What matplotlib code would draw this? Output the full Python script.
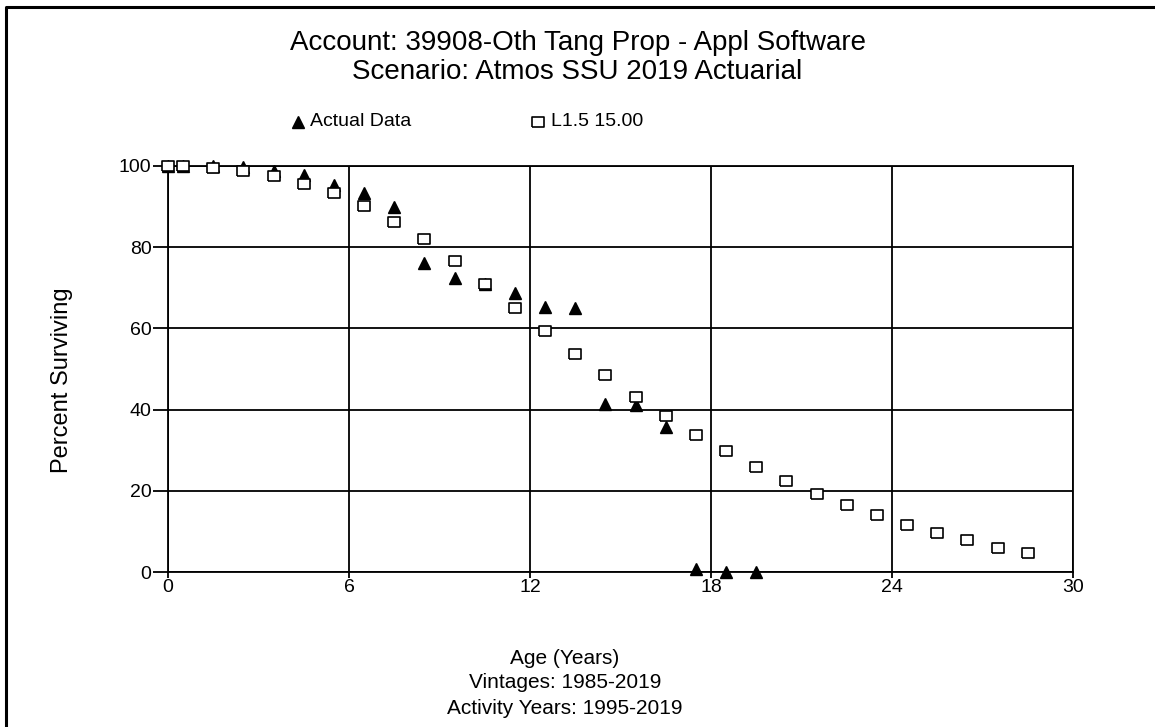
import matplotlib
matplotlib.use('Agg')
import matplotlib.pyplot as plt
from matplotlib.lines import Line2D

plt.rcParams['font.family'] = ['Liberation Sans', 'DejaVu Sans']

# curve (L1.5 15.00)
curve_age = [0, 0.5, 1.5, 2.5, 3.5, 4.5, 5.5, 6.5, 7.5, 8.5, 9.5, 10.5, 11.5, 12.5,
             13.5, 14.5, 15.5, 16.5, 17.5, 18.5, 19.5, 20.5, 21.5, 22.5, 23.5,
             24.5, 25.5, 26.5, 27.5, 28.5]
curve_pct = [100, 100, 99.5, 98.8, 97.5, 95.6, 93.4, 90.2, 86.3, 82.0, 76.6, 70.9,
             65.1, 59.4, 53.7, 48.4, 43.2, 38.3, 33.7, 29.9, 25.9, 22.3, 19.2, 16.6,
             14.0, 11.5, 9.6, 7.8, 6.0, 4.8]

# actual data
act_age = [0, 0.5, 1.5, 2.5, 3.5, 4.5, 5.5, 6.5, 7.5, 8.5, 9.5, 10.5, 11.5, 12.5,
           13.5, 14.5, 15.5, 16.5, 17.5, 18.5, 19.5]
act_pct = [100, 100, 99.9, 99.8, 98.8, 97.8, 95.3, 93.3, 89.8, 76.0, 72.5, 70.9,
           68.6, 65.3, 64.9, 41.4, 41.1, 35.8, 0.7, 0.1, 0.1]

xticks = [0, 6, 12, 18, 24, 30]
yticks = [0, 20, 40, 60, 80, 100]

rect = [(-1.3, -1), (1.3, -1), (1.3, 1), (-1.3, 1), (-1.3, -1)]

fig = plt.figure(figsize=(11.55, 7.27), dpi=100)
ax = fig.add_axes([0.1455, 0.2132, 0.7835, 0.5585])

ax.plot(act_age, act_pct, linestyle='none', marker='^', ms=8.5,
        color='black', zorder=3, clip_on=False)
ax.plot(curve_age, curve_pct, linestyle='none', marker=rect, ms=9.2,
        mfc='white', mec='black', mew=1.2, zorder=4, clip_on=False)

ax.set_xlim(0, 30)
ax.set_ylim(0, 100)
ax.set_xticks(xticks)
ax.set_yticks(yticks)
ax.grid(True, color='black', lw=1.3)
ax.set_axisbelow(True)
for s in ax.spines.values():
    s.set_linewidth(1.3)
ax.tick_params(axis='y', direction='out', length=11, width=1.3,
               labelsize=14, pad=1)
ax.tick_params(axis='x', direction='out', length=4, width=1.3,
               labelsize=14, pad=1)

fig.text(0.5, 1 - 43 / 727, 'Account: 39908-Oth Tang Prop - Appl Software',
         ha='center', va='center', fontsize=20)
fig.text(0.5, 1 - 72 / 727, 'Scenario: Atmos SSU 2019 Actuarial',
         ha='center', va='center', fontsize=20)

# legend row
fig.add_artist(Line2D([298 / 1155], [1 - 122 / 727], marker='^', ms=8,
                      color='black', linestyle='none'))
fig.text(310 / 1155, 1 - 122 / 727, 'Actual Data', ha='left', va='center', fontsize=14)
fig.add_artist(Line2D([538 / 1155], [1 - 122 / 727], marker=rect, ms=9.2,
                      mfc='white', mec='black', mew=1.2, linestyle='none'))
fig.text(551 / 1155, 1 - 122 / 727, 'L1.5 15.00', ha='left', va='center', fontsize=14)

fig.text(62 / 1155, 1 - 380 / 727, 'Percent Surviving', rotation=90,
         ha='center', va='center', fontsize=17)
fig.text(565 / 1155, 1 - 658 / 727, 'Age (Years)', ha='center', va='center', fontsize=15)
fig.text(565 / 1155, 1 - 683 / 727, 'Vintages: 1985-2019', ha='center', va='center', fontsize=15)
fig.text(565 / 1155, 1 - 708 / 727, 'Activity Years: 1995-2019', ha='center', va='center', fontsize=15)

# outer frame (left and top edges only visible)
fig.add_artist(Line2D([6 / 1155, 6 / 1155, 1.0], [0.0, 1 - 7 / 727, 1 - 7 / 727],
                      color='black', lw=2.2))

fig.savefig('out.png', dpi=100)
